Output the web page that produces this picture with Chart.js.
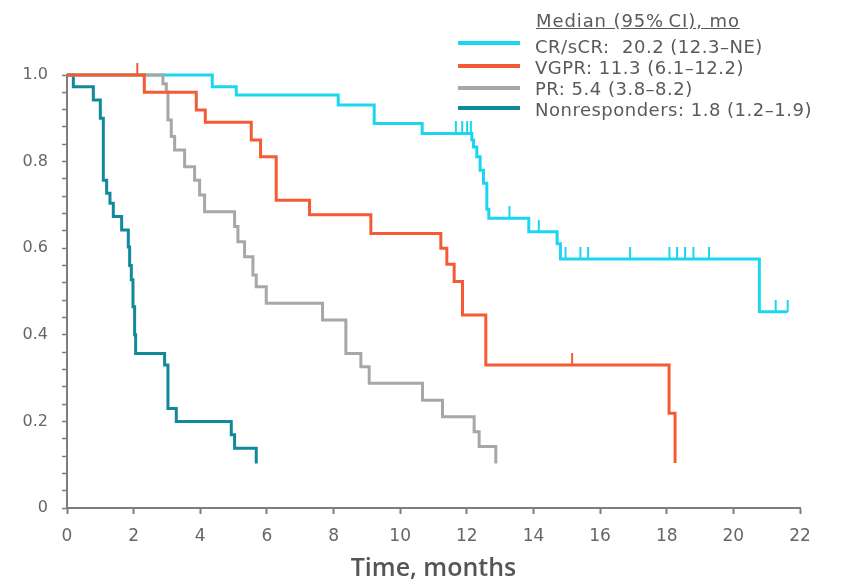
<!DOCTYPE html>
<html>
<head>
<meta charset="utf-8">
<script src="https://cdn.jsdelivr.net/npm/chart.js@4.4.1/dist/chart.umd.min.js"></script>
<style>
  html, body { margin: 0; padding: 0; background: #fff; }
  #wrap { position: relative; width: 841px; height: 584px; }
  #km { display: block; }
  .lg { position: absolute; font-family: "DejaVu Sans", sans-serif; font-size: 18px; letter-spacing: 0.5px; color: #5a5a5a; white-space: nowrap; line-height: 21px; }
  .sw { position: absolute; height: 4px; width: 62px; }
</style>
</head>
<body>
<div id="wrap">
  <canvas id="km" width="841" height="584"></canvas>
  <div class="lg" style="left:536px; top:10px; letter-spacing:0.9px; text-decoration: underline;">Median (95%&#8239;CI), mo</div>
  <div class="sw" style="left:458px; top:41px; background:#1CD5F1;"></div>
  <div class="lg" style="left:535px; top:36px;">CR/sCR:&nbsp; 20.2 (12.3–NE)</div>
  <div class="sw" style="left:458px; top:64px; background:#F45B35;"></div>
  <div class="lg" style="left:535px; top:57px;">VGPR: 11.3 (6.1–12.2)</div>
  <div class="sw" style="left:458px; top:86px; background:#A9A6A6;"></div>
  <div class="lg" style="left:535px; top:78px;">PR: 5.4 (3.8–8.2)</div>
  <div class="sw" style="left:458px; top:106px; background:#11899A;"></div>
  <div class="lg" style="left:535px; top:99px;">Nonresponders: 1.8 (1.2–1.9)</div>
</div>
<script>
// Kaplan-Meier steps: time (months) where survival drops, survival after the drop
var crT = [0, 4.36, 5.08, 8.14, 9.22, 10.66, 12.15, 12.2, 12.3, 12.4, 12.5, 12.6, 12.66, 13.86, 14.71, 14.81, 20.78, 21.63];
var crS = [1.0, 0.973, 0.954, 0.931, 0.888, 0.865, 0.85, 0.834, 0.811, 0.78, 0.75, 0.69, 0.669, 0.638, 0.61, 0.575, 0.453, 0.453];
var crCensT = [11.67, 11.86, 12.01, 12.12, 13.28, 14.16, 14.96, 15.41, 15.64, 16.9, 18.08, 18.31, 18.55, 18.8, 19.27, 21.27, 21.63];
var crCensS = [0.865, 0.865, 0.865, 0.865, 0.669, 0.638, 0.575, 0.575, 0.575, 0.575, 0.575, 0.575, 0.575, 0.575, 0.575, 0.453, 0.453];

var vgT = [0, 2.32, 3.88, 4.15, 5.53, 5.81, 6.28, 7.28, 9.12, 11.22, 11.4, 11.62, 11.87, 12.57, 18.07, 18.25];
var vgS = [1.0, 0.96, 0.919, 0.891, 0.85, 0.811, 0.711, 0.677, 0.634, 0.6, 0.563, 0.523, 0.446, 0.33, 0.219, 0.104];
var vgCensT = [2.11, 15.16];
var vgCensS = [1.0, 0.33];

var prT = [0, 2.88, 2.98, 3.03, 3.13, 3.23, 3.53, 3.83, 3.98, 4.13, 5.03, 5.13, 5.33, 5.58, 5.68, 5.98, 7.67, 8.37, 8.82, 9.07, 10.67, 11.27, 12.22, 12.37, 12.87];
var prS = [1.0, 0.98, 0.961, 0.896, 0.858, 0.827, 0.788, 0.757, 0.723, 0.684, 0.65, 0.615, 0.58, 0.538, 0.511, 0.473, 0.434, 0.357, 0.326, 0.288, 0.249, 0.211, 0.176, 0.142, 0.103];

var nrT = [0, 0.19, 0.79, 1.0, 1.09, 1.19, 1.29, 1.39, 1.64, 1.84, 1.88, 1.93, 1.98, 2.03, 2.06, 2.93, 3.03, 3.28, 4.93, 5.03, 5.68];
var nrS = [1.0, 0.973, 0.942, 0.9, 0.757, 0.727, 0.704, 0.673, 0.642, 0.603, 0.56, 0.527, 0.465, 0.4, 0.357, 0.33, 0.23, 0.2, 0.169, 0.138, 0.103];

var xTicks = [0, 2, 4, 6, 8, 10, 12, 14, 16, 18, 20, 22];
var yLabels = ["0", "0.2", "0.4", "0.6", "0.8", "1.0"];

var colCR = '#1CD5F1', colVG = '#F45B35', colPR = '#A9A6A6', colNR = '#11899A';

function pts(t, s) {
  return t.map(function (v, i) { return { x: v, y: s[i] }; });
}

// small upward tick used as the censor mark
function censorMark(color) {
  var c = document.createElement('canvas');
  c.width = 4; c.height = 24;
  var g = c.getContext('2d');
  g.fillStyle = color;
  g.fillRect(1, 0, 2, 12);
  return c;
}

function curve(t, s, color) {
  return { data: pts(t, s), borderColor: color, borderWidth: 3, stepped: 'before', pointRadius: 0, fill: false, clip: false };
}
function censors(t, s, color) {
  return { data: pts(t, s), showLine: false, pointStyle: censorMark(color), pointRadius: 6, clip: false };
}

document.addEventListener("DOMContentLoaded", function () {
  var ctx = document.getElementById("km").getContext('2d');
  new Chart(ctx, {
    type: 'line',
    data: {
      datasets: [
        curve(vgT, vgS, colVG), censors(vgCensT, vgCensS, colVG),
        curve(prT, prS, colPR),
        curve(crT, crS, colCR), censors(crCensT, crCensS, colCR),
        curve(nrT, nrS, colNR)
      ]
    },
    options: {
      responsive: false,
      animation: false,
      events: [],
      layout: { padding: { top: 75, right: 41, left: 0, bottom: 0 } },
      plugins: { legend: { display: false }, tooltip: { enabled: false } },
      scales: {
        x: {
          type: 'linear', min: 0, max: 22,
          afterFit: function (s) { s.height = 76; },
          afterBuildTicks: function (s) { s.ticks = xTicks.map(function (v) { return { value: v }; }); },
          grid: { drawOnChartArea: false, tickLength: 6, tickWidth: 2, color: '#7d7d7d' },
          border: { color: '#7d7d7d', width: 2 },
          ticks: { color: '#666', font: { family: 'DejaVu Sans', size: 17 }, padding: 12, maxRotation: 0, autoSkip: false },
          title: { display: true, text: 'Time, months', color: '#555', font: { family: 'Open Sans', size: 25, weight: '600' }, padding: { top: 0, bottom: 0 } }
        },
        y: {
          type: 'linear', min: 0, max: 1.0,
          afterFit: function (s) { s.width = 67; },
          ticks: {
            stepSize: 0.04, autoSkip: false, color: '#666', font: { family: 'DejaVu Sans', size: 16 }, padding: 14,
            callback: function (v) {
              var k = v * 5;
              if (Math.abs(k - Math.round(k)) > 1e-6) return '';
              return yLabels[Math.round(k)];
            }
          },
          grid: { drawOnChartArea: false, tickLength: 5, tickWidth: 1.5, color: '#7d7d7d' },
          border: { color: '#7d7d7d', width: 2 }
        }
      }
    }
  });
});
</script>
</body>
</html>
